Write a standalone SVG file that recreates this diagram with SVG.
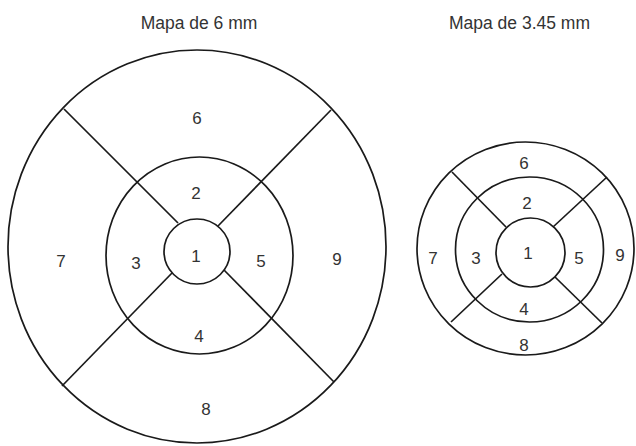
<svg xmlns="http://www.w3.org/2000/svg" width="636" height="446" viewBox="0 0 636 446">
<style>
.ring{fill:none;stroke:#1a1a1a;stroke-width:1.7}
.div{stroke:#1a1a1a;stroke-width:1.7;fill:none}
.lbl{font-family:"Liberation Sans",Arial,sans-serif;font-size:17px;fill:#333;text-anchor:middle}
.title{font-family:"Liberation Sans",Arial,sans-serif;font-size:17.5px;fill:#333;text-anchor:middle}
</style>
<rect width="636" height="446" fill="#fff"/>
<text class="title" x="199" y="29">Mapa de 6 mm</text>
<text class="title" x="519.5" y="29">Mapa de 3.45 mm</text>
<g id="map6">
<g id="map6-rings">
<ellipse class="ring" cx="197" cy="246.5" rx="189" ry="196.5"/>
<ellipse class="ring" cx="199.5" cy="255.5" rx="93.5" ry="98.5"/>
<ellipse class="ring" cx="197" cy="251.5" rx="33" ry="32.5"/>
</g>
<g id="map6-connectors">
<line class="div" x1="64" y1="109" x2="178" y2="223"/>
<line class="div" x1="331" y1="110" x2="218" y2="226"/>
<line class="div" x1="62" y1="386" x2="172" y2="273"/>
<line class="div" x1="334" y1="382" x2="224" y2="270"/>
</g>
<g id="map6-s1"><text class="lbl" x="196" y="262">1</text></g>
<g id="map6-s2"><text class="lbl" x="196" y="199">2</text></g>
<g id="map6-s3"><text class="lbl" x="136" y="269">3</text></g>
<g id="map6-s4"><text class="lbl" x="199" y="342">4</text></g>
<g id="map6-s5"><text class="lbl" x="261" y="267">5</text></g>
<g id="map6-s6"><text class="lbl" x="197" y="124">6</text></g>
<g id="map6-s7"><text class="lbl" x="61" y="267">7</text></g>
<g id="map6-s8"><text class="lbl" x="206" y="415">8</text></g>
<g id="map6-s9"><text class="lbl" x="337" y="265">9</text></g>
</g>
<g id="map345">
<g id="map345-rings">
<ellipse class="ring" cx="525.5" cy="248.5" rx="108.5" ry="106.5"/>
<ellipse class="ring" cx="529.5" cy="249.5" rx="74" ry="72.5"/>
<ellipse class="ring" cx="530.5" cy="252.5" rx="34.5" ry="34.5"/>
</g>
<g id="map345-connectors">
<line class="div" x1="452" y1="172" x2="506" y2="227"/>
<line class="div" x1="607" y1="177" x2="553" y2="227"/>
<line class="div" x1="451" y1="322" x2="502" y2="274"/>
<line class="div" x1="602" y1="323" x2="555" y2="277"/>
</g>
<g id="map345-s1"><text class="lbl" x="528" y="259">1</text></g>
<g id="map345-s2"><text class="lbl" x="527" y="209">2</text></g>
<g id="map345-s3"><text class="lbl" x="476" y="264">3</text></g>
<g id="map345-s4"><text class="lbl" x="524" y="315">4</text></g>
<g id="map345-s5"><text class="lbl" x="579" y="264">5</text></g>
<g id="map345-s6"><text class="lbl" x="524" y="169">6</text></g>
<g id="map345-s7"><text class="lbl" x="433" y="264">7</text></g>
<g id="map345-s8"><text class="lbl" x="524" y="351">8</text></g>
<g id="map345-s9"><text class="lbl" x="620" y="261">9</text></g>
</g>
</svg>
